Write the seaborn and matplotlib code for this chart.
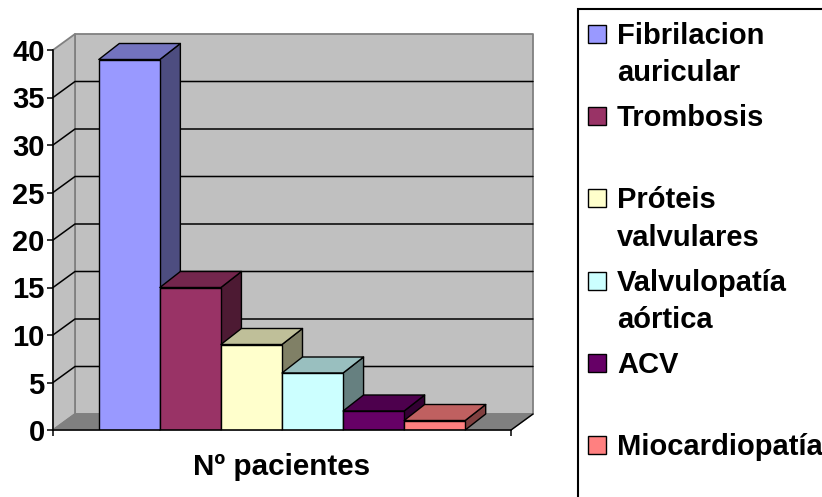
import pandas as pd
import seaborn as sns
import matplotlib.pyplot as plt
from matplotlib.colors import to_rgb
from matplotlib.patches import Polygon, Rectangle

# Data
categoria = "Nº pacientes"
series = ["Fibrilacion auricular", "Trombosis", "Próteis valvulares",
          "Valvulopatía aórtica", "ACV", "Miocardiopatía"]
pacientes = [39, 15, 9, 6, 2, 1]
colores = ["#9999FF", "#993366", "#FFFFCC", "#CCFFFF", "#660066", "#FF8080"]
legend_labels = ["Fibrilacion\nauricular", "Trombosis", "Próteis\nvalvulares",
                 "Valvulopatía\naórtica", "ACV", "Miocardiopatía"]
yticks = [0, 5, 10, 15, 20, 25, 30, 35, 40]

W, H = 822, 497
df = pd.DataFrame({"cat": categoria, "serie": series, "n": pacientes})

sns.set_theme(style="white")
plt.rcParams["font.family"] = ["Liberation Sans", "DejaVu Sans"]
plt.rcParams["font.weight"] = "bold"

fig = plt.figure(figsize=(W / 100, H / 100), dpi=100)
ax = fig.add_axes([53 / W, 1 - 430 / H, 458 / W, 380 / H])

sns.barplot(data=df, x="cat", y="n", hue="serie", hue_order=series,
            palette=colores, saturation=1, width=0.8, gap=0, legend=False,
            edgecolor="black", linewidth=1.0, ax=ax)

ax.set_xlim(-0.5, 0.5)
ax.set_ylim(0, 40)

# Profundidad del efecto 3D (en unidades de datos)
dx = 22 / 458
dy = 16 / 9.5
bar_dx = 20.5 / 458
x0, x1 = -0.5, 0.5
ymax = yticks[-1]
gris = "#C0C0C0"
borde = "#808080"


def cara(puntos, color, edge, z, lw=1.0):
    ax.add_patch(Polygon(puntos, closed=True, facecolor=color, edgecolor=edge,
                         linewidth=lw, zorder=z, clip_on=False, joinstyle="round"))


# Paredes y suelo
cara([(x0 + dx, dy), (x1 + dx, dy), (x1 + dx, ymax + dy), (x0 + dx, ymax + dy)], gris, borde, 0.1, 1.3)
cara([(x0, 0), (x0 + dx, dy), (x0 + dx, ymax + dy), (x0, ymax)], gris, borde, 0.2, 1.3)
cara([(x0, 0), (x1, 0), (x1 + dx, dy), (x0 + dx, dy)], borde, borde, 0.3, 1.0)
ax.plot([x1, x1 + dx], [0, dy], color="black", lw=1.0, zorder=0.4, clip_on=False)

# Lineas de division
for v in yticks[1:-1]:
    ax.plot([x0, x0 + dx, x1 + dx], [v, v + dy, v + dy], color="black", lw=1.1,
            zorder=0.5, clip_on=False)

# Caras laterales y superiores de cada barra
for i, (p, c) in enumerate(zip(ax.patches[:len(series)], colores)):
    xa = p.get_x()
    xb = xa + p.get_width()
    h = p.get_height()
    rgb = to_rgb(c)
    z = 1 + i
    cara([(xb, 0), (xb + bar_dx, dy), (xb + bar_dx, h + dy), (xb, h)],
         tuple(k * 0.5 for k in rgb), "black", z)
    cara([(xa, h), (xb, h), (xb + bar_dx, h + dy), (xa + bar_dx, h + dy)],
         tuple(k * 0.75 for k in rgb), "black", z)
    p.set_zorder(z + 0.5)

# Ejes
sns.despine(ax=ax, top=True, right=True)
for s in ["left", "bottom"]:
    ax.spines[s].set_color("black")
    ax.spines[s].set_linewidth(1.1)
    ax.spines[s].set_zorder(20)
ax.set_yticks(yticks)
ax.set_xticks([x0, x1], labels=["", ""])
ax.tick_params(axis="both", length=4, width=1.1, color="black", left=True, bottom=True)
ax.tick_params(axis="y", labelsize=21, pad=2, labelcolor="black")
ax.set_ylabel("")
ax.set_xlabel(categoria, fontsize=21.3, fontweight="bold", color="black", labelpad=9)
ax.patch.set_alpha(0)

# Leyenda
fig.add_artist(Rectangle((578 / W, -0.1), 0.4, 1.1 - 9 / H, transform=fig.transFigure,
                         facecolor="none", edgecolor="black", linewidth=1.5))
for i, (lab, c) in enumerate(zip(legend_labels, colores)):
    yc = 34 + i * 82.2
    fig.add_artist(Rectangle((588 / W, 1 - (yc + 9) / H), 18 / W, 18 / H, transform=fig.transFigure,
                             facecolor=c, edgecolor="black", linewidth=1.0))
    fig.text(617 / W, 1 - (yc - 12) / H, lab, fontsize=21, fontweight="bold", color="black",
             va="top", ha="left", linespacing=1.42)

fig.savefig("out.png", dpi=100)
